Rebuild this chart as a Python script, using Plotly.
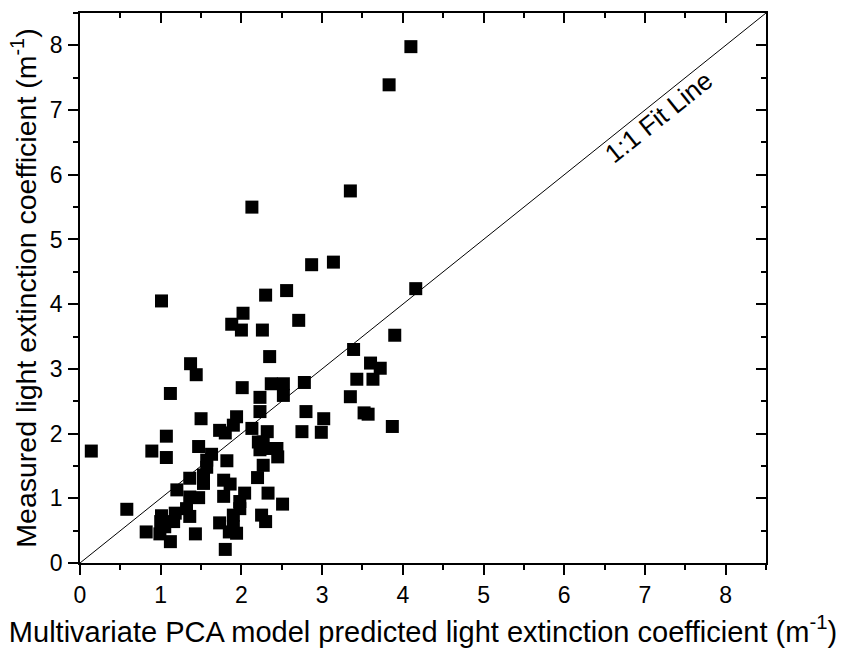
import plotly.graph_objects as go

# Predicted (x) and measured (y) light extinction coefficients (m^-1)
predicted = [4.10, 3.83, 3.35, 2.13, 2.87, 3.14, 4.16, 2.30, 2.56, 1.01,
             2.02, 1.88, 2.00, 2.26, 2.71, 3.90, 3.39, 2.35, 1.37, 1.44,
             3.60, 3.72, 3.43, 3.63, 2.78, 2.01, 2.37, 2.52, 1.12, 2.23,
             2.52, 3.35, 2.23, 2.80, 3.52, 3.57, 3.02, 1.50, 1.94, 3.87,
             1.90, 1.73, 1.80, 2.13, 2.32, 2.75, 2.99, 1.07,
             2.21, 2.27, 2.35, 2.44, 2.23, 2.45, 1.82, 2.27, 0.14, 0.89,
             1.07, 1.47, 1.63, 1.57, 1.57, 1.53, 1.36, 1.53, 1.78, 1.86,
             2.20, 1.20, 1.78, 2.04, 2.33, 2.51, 1.98, 1.98, 1.36, 1.47,
             0.58, 1.01, 1.18, 1.32, 1.36, 1.00, 1.05, 1.16, 0.82, 0.99,
             1.12, 1.43, 1.73, 1.90, 1.85, 1.94, 1.90, 1.80, 2.25, 2.30]
measured = [7.98, 7.39, 5.75, 5.50, 4.61, 4.65, 4.24, 4.14, 4.21, 4.05,
            3.86, 3.69, 3.60, 3.60, 3.75, 3.52, 3.30, 3.19, 3.08, 2.91,
            3.09, 3.01, 2.84, 2.84, 2.79, 2.71, 2.77, 2.77, 2.62, 2.56,
            2.59, 2.57, 2.34, 2.34, 2.32, 2.30, 2.23, 2.23, 2.26, 2.11,
            2.13, 2.05, 2.01, 2.08, 2.03, 2.03, 2.02, 1.96,
            1.87, 1.87, 1.77, 1.77, 1.75, 1.64, 1.58, 1.51, 1.73, 1.73,
            1.63, 1.80, 1.68, 1.59, 1.48, 1.36, 1.31, 1.23, 1.28, 1.22,
            1.32, 1.13, 1.03, 1.08, 1.08, 0.91, 0.95, 0.84, 1.02, 1.01,
            0.83, 0.73, 0.77, 0.84, 0.72, 0.64, 0.56, 0.64, 0.48, 0.45,
            0.33, 0.45, 0.62, 0.74, 0.48, 0.46, 0.56, 0.21, 0.74, 0.64]

fit_line = [0, 8.5]
axis_range = [0, 8.5]
x_title = "Multivariate PCA model predicted light extinction coefficient (m<sup>-1</sup>)"
y_title = "Measured light extinction coefficient (m<sup>-1</sup>)"
fit_label = "1:1 Fit Line"

FONT = "Arial, 'Liberation Sans', sans-serif"

fig = go.Figure()
fig.add_trace(go.Scatter(x=fit_line, y=fit_line, mode="lines",
                         line=dict(color="black", width=1), showlegend=False,
                         hoverinfo="skip"))
fig.add_trace(go.Scatter(x=predicted, y=measured, mode="markers",
                         marker=dict(symbol="square", size=13, color="black",
                                     line=dict(width=0)),
                         showlegend=False))
# invisible trace to activate mirrored (inside-tick) axes
fig.add_trace(go.Scatter(x=[0], y=[0], xaxis="x2", yaxis="y2", mode="markers",
                         marker=dict(opacity=0), showlegend=False, hoverinfo="skip"))

common = dict(range=axis_range, dtick=1, tick0=0, showgrid=False, zeroline=False,
              tickcolor="black", tickwidth=1.5, ticklen=10)

fig.update_layout(
    width=841, height=658,
    margin=dict(l=80, r=75, t=13, b=95),
    paper_bgcolor="white", plot_bgcolor="white",
    font=dict(family=FONT, color="black"),
    xaxis=dict(**common, ticks="outside", showline=True, linecolor="black",
               linewidth=1.5, mirror=True,
               minor=dict(ticks="outside", ticklen=5, dtick=0.5, tickcolor="black",
                          tickwidth=1.5),
               tickfont=dict(size=23), ticklabelstandoff=1,
               title=dict(text=x_title, font=dict(size=29), standoff=14)),
    yaxis=dict(**common, ticks="outside", showline=True, linecolor="black",
               linewidth=1.5, mirror=True,
               minor=dict(ticks="outside", ticklen=5, dtick=0.5, tickcolor="black",
                          tickwidth=1.5),
               tickfont=dict(size=23), ticklabelstandoff=1,
               title=dict(text=y_title, font=dict(size=28.5), standoff=5)),
    xaxis2=dict(**common, overlaying="x", side="top", ticks="inside",
                showticklabels=False, showline=False,
                minor=dict(ticks="inside", ticklen=5, dtick=0.5, tickcolor="black",
                           tickwidth=1.5)),
    yaxis2=dict(**common, overlaying="y", side="right", ticks="inside",
                showticklabels=False, showline=False,
                minor=dict(ticks="inside", ticklen=5, dtick=0.5, tickcolor="black",
                           tickwidth=1.5)),
    annotations=[dict(x=7.17, y=6.90, xref="x", yref="y", text=fit_label,
                      showarrow=False, textangle=-38.7, xanchor="center",
                      yanchor="middle", font=dict(size=26, family=FONT))],
)

fig.write_html("out.html")
